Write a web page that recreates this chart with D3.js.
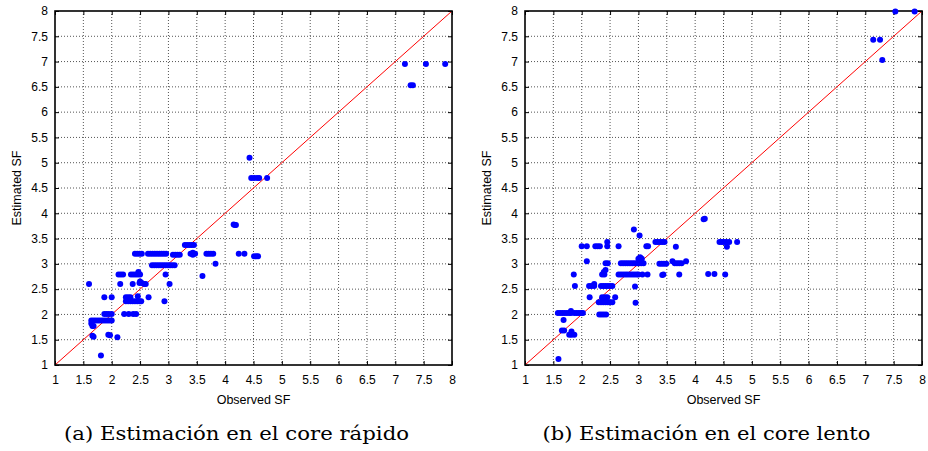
<!DOCTYPE html>
<html>
<head>
<meta charset="utf-8">
<script src="https://cdn.jsdelivr.net/npm/d3@7"></script>
<style>
  body { margin: 0; background: #fff; }
  .tick text { font-family: "Liberation Sans", Arial, sans-serif; font-size: 12px; fill: #000; }
  .lbl { font-family: "Liberation Sans", Arial, sans-serif; font-size: 12.5px; fill: #000; }
  .cap { font-family: "DejaVu Serif", "Liberation Serif", serif; font-size: 19px; fill: #000; }
</style>
</head>
<body>
<div id="chart"></div>
<script>
// tick values on both axes
var tickValues = [1, 1.5, 2, 2.5, 3, 3.5, 4, 4.5, 5, 5.5, 6, 6.5, 7, 7.5, 8];
var xTitle = "Observed SF";
var yTitle = "Estimated SF";
var captions = ["(a) Estimación en el core rápido", "(b) Estimación en el core lento"];

// [observed, estimated] - fast core
var fastPoints = [
  [7.17, 6.95], [7.27, 6.53], [7.31, 6.53], [7.54, 6.95], [7.88, 6.95],
  [4.43, 5.1], [4.46, 4.7], [4.51, 4.7], [4.56, 4.7], [4.6, 4.7], [4.74, 4.7],
  [4.15, 3.78], [4.17, 3.77], [4.19, 3.77],
  [3.29, 3.375], [3.33, 3.375], [3.37, 3.375], [3.41, 3.375], [3.45, 3.375],
  [2.41, 3.2], [2.45, 3.2], [2.49, 3.2], [2.53, 3.2],
  [2.64, 3.2], [2.68, 3.2], [2.72, 3.2], [2.76, 3.2], [2.8, 3.2], [2.84, 3.2], [2.88, 3.2], [2.92, 3.2], [2.96, 3.2],
  [3.08, 3.18], [3.12, 3.18], [3.16, 3.18], [3.2, 3.18],
  [3.39, 3.2], [3.43, 3.22], [3.47, 3.2], [3.43, 3.18],
  [3.67, 3.2], [3.71, 3.2], [3.75, 3.2], [3.79, 3.2],
  [4.24, 3.2], [4.34, 3.2], [4.51, 3.15], [4.55, 3.15], [4.58, 3.15],
  [2.71, 2.97], [2.75, 2.97], [2.79, 2.97], [2.83, 2.97], [2.87, 2.97], [2.91, 2.97],
  [2.95, 2.97], [2.99, 2.97], [3.03, 2.97], [3.07, 2.97], [3.11, 2.97],
  [3.83, 3.0], [3.6, 2.76],
  [2.12, 2.79], [2.16, 2.79], [2.2, 2.79],
  [2.34, 2.79], [2.38, 2.79], [2.42, 2.79], [2.46, 2.79], [2.5, 2.79], [2.47, 2.84], [2.95, 2.79],
  [1.6, 2.6], [2.15, 2.6], [2.37, 2.6], [2.49, 2.62], [2.53, 2.62], [2.57, 2.6], [2.6, 2.6],
  [3.02, 2.6], [2.5, 2.65],
  [1.87, 2.34], [2.0, 2.34], [2.25, 2.34], [2.29, 2.34], [2.33, 2.34], [2.46, 2.36], [2.65, 2.34],
  [2.25, 2.26], [2.29, 2.26], [2.33, 2.26], [2.37, 2.26], [2.41, 2.26], [2.45, 2.26],
  [2.49, 2.26], [2.52, 2.26], [2.93, 2.26],
  [1.87, 2.01], [1.91, 2.01], [1.95, 2.01], [2.0, 2.01],
  [2.22, 2.01], [2.3, 2.01], [2.38, 2.01], [2.43, 2.01],
  [1.64, 1.88], [1.68, 1.88], [1.72, 1.88], [1.76, 1.88], [1.8, 1.88],
  [1.84, 1.88], [1.88, 1.88], [1.92, 1.88], [1.96, 1.88], [2.0, 1.88],
  [1.64, 1.82], [1.66, 1.77], [1.68, 1.77],
  [1.66, 1.58], [1.68, 1.56], [1.94, 1.6], [1.97, 1.59], [2.1, 1.55],
  [1.81, 1.19]
];

// [observed, estimated] - slow core
var slowPoints = [
  [7.14, 7.43], [7.26, 7.43], [7.3, 7.03], [7.53, 7.99], [7.87, 7.99],
  [4.15, 3.88], [4.17, 3.89],
  [3.3, 3.43], [3.34, 3.43], [3.38, 3.43], [3.42, 3.43], [3.46, 3.43],
  [4.43, 3.43], [4.47, 3.43], [4.51, 3.43], [4.55, 3.43], [4.6, 3.43], [4.74, 3.43],
  [4.56, 3.34], [3.66, 3.34],
  [2.0, 3.35], [2.09, 3.35], [2.24, 3.35], [2.28, 3.35], [2.32, 3.35], [2.45, 3.35],
  [2.45, 3.43], [2.65, 3.35], [3.14, 3.35], [3.17, 3.35],
  [2.92, 3.68], [3.02, 3.56],
  [2.09, 3.05],
  [2.42, 3.01], [2.46, 3.01],
  [2.69, 3.01], [2.73, 3.01], [2.77, 3.01], [2.81, 3.01], [2.85, 3.01], [2.89, 3.01],
  [2.93, 3.01], [2.97, 3.01], [3.01, 3.01], [3.05, 3.01], [3.09, 3.01],
  [3.0, 3.1], [3.03, 3.13], [3.06, 3.1],
  [3.37, 3.0], [3.41, 3.0], [3.45, 3.0], [3.49, 3.0],
  [3.6, 3.05], [3.64, 3.01], [3.68, 3.01], [3.72, 3.01], [3.76, 3.01], [3.84, 3.05],
  [1.86, 2.79], [2.36, 2.79], [2.4, 2.79], [2.42, 2.88], [2.39, 2.84],
  [2.65, 2.79], [2.69, 2.79], [2.73, 2.79], [2.77, 2.79], [2.81, 2.79], [2.85, 2.79],
  [2.89, 2.79], [2.93, 2.79], [2.97, 2.79], [3.0, 2.79],
  [3.07, 2.79], [3.16, 2.79], [3.42, 2.78], [3.44, 2.79], [3.72, 2.79],
  [4.23, 2.8], [4.34, 2.8], [4.53, 2.79],
  [1.88, 2.56], [2.13, 2.56], [2.17, 2.56], [2.22, 2.56], [2.22, 2.6],
  [2.34, 2.56], [2.38, 2.56], [2.42, 2.56], [2.46, 2.56], [2.5, 2.56], [2.54, 2.56], [2.94, 2.55],
  [2.14, 2.34], [2.36, 2.34], [2.41, 2.34], [2.45, 2.34], [2.59, 2.34], [2.37, 2.31],
  [2.3, 2.24], [2.34, 2.24], [2.38, 2.24], [2.42, 2.24], [2.46, 2.24], [2.5, 2.24],
  [2.54, 2.24], [2.95, 2.23],
  [2.31, 2.0], [2.35, 2.0], [2.39, 2.0], [2.43, 2.0],
  [1.58, 2.03], [1.62, 2.03], [1.66, 2.03], [1.7, 2.03], [1.74, 2.03], [1.78, 2.03],
  [1.81, 2.03], [1.87, 2.03], [1.91, 2.03], [1.95, 2.03], [1.99, 2.03], [2.02, 2.03],
  [1.81, 2.07],
  [1.68, 1.89], [1.65, 1.68], [1.69, 1.68],
  [1.78, 1.6], [1.82, 1.6], [1.87, 1.6], [1.82, 1.66],
  [1.59, 1.12]
];

var W = 928, H = 451;
var plotW = 397, plotH = 354, plotTop = 11;
var panelLeft = [55, 525];
var captionWidth = [345, 328];

var svg = d3.select("#chart").append("svg")
  .attr("width", W)
  .attr("height", H);

var x = d3.scaleLinear().domain([1, 8]).range([0, plotW]);
var y = d3.scaleLinear().domain([1, 8]).range([plotH, 0]);
var fmt = d3.format("~g");

function drawPanel(i, points) {
  var g = svg.append("g")
    .attr("transform", "translate(" + panelLeft[i] + "," + plotTop + ")");

  // dotted grid
  var inner = tickValues.slice(1, -1);
  g.selectAll(".vgrid").data(inner).enter().append("line")
    .attr("x1", function(d) { return x(d); }).attr("x2", function(d) { return x(d); })
    .attr("y1", 0).attr("y2", plotH)
    .attr("stroke", "#555").attr("stroke-width", 1).attr("stroke-dasharray", "1,2");
  g.selectAll(".hgrid").data(inner).enter().append("line")
    .attr("y1", function(d) { return y(d); }).attr("y2", function(d) { return y(d); })
    .attr("x1", 0).attr("x2", plotW)
    .attr("stroke", "#555").attr("stroke-width", 1).attr("stroke-dasharray", "1,2");

  // axes with inward ticks (mirrored top/right without labels)
  g.append("g").attr("transform", "translate(0," + plotH + ")")
    .call(d3.axisBottom(x).tickValues(tickValues).tickFormat(fmt)
      .tickSizeInner(-4).tickSizeOuter(0).tickPadding(10));
  g.append("g")
    .call(d3.axisTop(x).tickValues(tickValues).tickFormat("")
      .tickSizeInner(-4).tickSizeOuter(0));
  g.append("g")
    .call(d3.axisLeft(y).tickValues(tickValues).tickFormat(fmt)
      .tickSizeInner(-4).tickSizeOuter(0).tickPadding(7));
  g.append("g").attr("transform", "translate(" + plotW + ",0)")
    .call(d3.axisRight(y).tickValues(tickValues).tickFormat("")
      .tickSizeInner(-4).tickSizeOuter(0));
  g.selectAll(".domain").remove();
  g.selectAll(".tick line").attr("stroke", "#000");

  // diagonal y = x
  g.append("line")
    .attr("x1", x(1)).attr("y1", y(1))
    .attr("x2", x(8)).attr("y2", y(8))
    .attr("stroke", "#ff0000").attr("stroke-width", 1);

  // frame
  g.append("rect")
    .attr("width", plotW).attr("height", plotH)
    .attr("fill", "none").attr("stroke", "#000").attr("stroke-width", 1.6);

  // points
  g.selectAll(".pt").data(points).enter().append("circle")
    .attr("cx", function(d) { return x(d[0]); })
    .attr("cy", function(d) { return y(d[1]); })
    .attr("r", 3)
    .attr("fill", "#0000ff");

  // axis titles
  g.append("text").attr("class", "lbl")
    .attr("x", plotW / 2).attr("y", plotH + 39)
    .attr("text-anchor", "middle")
    .text(xTitle);
  g.append("text").attr("class", "lbl")
    .attr("transform", "translate(-34," + (plotH / 2) + ") rotate(-90)")
    .attr("text-anchor", "middle")
    .text(yTitle);

  // caption
  g.append("text").attr("class", "cap")
    .attr("x", plotW / 2 - 17).attr("y", 429)
    .attr("text-anchor", "middle")
    .attr("textLength", captionWidth[i])
    .attr("lengthAdjust", "spacingAndGlyphs")
    .text(captions[i]);
}

drawPanel(0, fastPoints);
drawPanel(1, slowPoints);
</script>
</body>
</html>
